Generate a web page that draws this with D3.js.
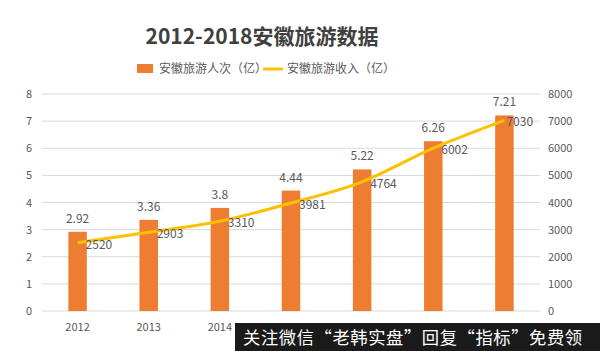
<!DOCTYPE html>
<html>
<head>
<meta charset="utf-8">
<script src="https://cdn.jsdelivr.net/npm/d3@7"></script>
<style>
  body { margin: 0; background: #fff; }
  text { font-family: "Noto Sans CJK SC", "Noto Sans", sans-serif; }
</style>
</head>
<body>
<div id="chart"></div>
<script>
// data
const years = ["2012", "2013", "2014", "2015", "2016", "2017", "2018"];
const visitors = [2.92, 3.36, 3.8, 4.44, 5.22, 6.26, 7.21];
const income = [2520, 2903, 3310, 3981, 4764, 6002, 7030];
const leftTicks = [0, 1, 2, 3, 4, 5, 6, 7, 8];
const rightTicks = [0, 1000, 2000, 3000, 4000, 5000, 6000, 7000, 8000];
// only the first three year labels are visible, the rest sit under the watermark
const visibleYears = ["2012", "2013", "2014"];

const width = 600, height = 351;
const margin = { top: 94, right: 60, bottom: 40, left: 42 };
const chartW = width - margin.left - margin.right;
const chartH = height - margin.top - margin.bottom;

const svg = d3.select("#chart").append("svg")
    .attr("width", width)
    .attr("height", height);

// title
svg.append("text")
    .attr("x", 262).attr("y", 44)
    .attr("text-anchor", "middle")
    .attr("font-size", "21px")
    .attr("font-weight", "bold")
    .attr("fill", "#404040")
    .text("2012-2018安徽旅游数据");

// legend
const legend = svg.append("g").attr("transform", "translate(137,69)");
legend.append("rect").attr("x", 0).attr("y", -5).attr("width", 16).attr("height", 9).attr("fill", "#ED7D31");
legend.append("text").attr("x", 22).attr("y", 4).attr("font-size", "12px").attr("fill", "#595959").text("安徽旅游人次（亿）");
legend.append("line").attr("x1", 126).attr("x2", 146).attr("y1", 0).attr("y2", 0)
    .attr("stroke", "#FFC000").attr("stroke-width", 3);
legend.append("text").attr("x", 150).attr("y", 4).attr("font-size", "12px").attr("fill", "#595959").text("安徽旅游收入（亿）");

const g = svg.append("g").attr("transform", `translate(${margin.left},${margin.top})`);

// scales
const x = d3.scaleBand().domain(years).range([0, chartW]).paddingInner(0.74).paddingOuter(0.37);
const yL = d3.scaleLinear().domain([0, 8]).range([chartH, 0]);
const yR = d3.scaleLinear().domain([0, 8000]).range([chartH, 0]);

// gridlines
g.append("g").selectAll("line").data(leftTicks).enter().append("line")
    .attr("x1", 0).attr("x2", chartW)
    .attr("y1", d => yL(d)).attr("y2", d => yL(d))
    .attr("stroke", "#d9d9d9").attr("stroke-width", 1);

// left axis
const leftAxis = g.append("g").call(d3.axisLeft(yL).tickValues(leftTicks).tickSize(0).tickPadding(10));
leftAxis.select(".domain").remove();
leftAxis.selectAll("text").attr("font-size", "11px").attr("fill", "#595959");

// right axis
const rightAxis = g.append("g").attr("transform", `translate(${chartW},0)`)
    .call(d3.axisRight(yR).tickValues(rightTicks).tickFormat(d3.format("d")).tickSize(0).tickPadding(8));
rightAxis.select(".domain").remove();
rightAxis.selectAll("text").attr("font-size", "11px").attr("fill", "#595959");

// x axis
const xAxis = g.append("g").attr("transform", `translate(0,${chartH})`)
    .call(d3.axisBottom(x).tickValues(visibleYears).tickSize(0).tickPadding(12));
xAxis.select(".domain").remove();
xAxis.selectAll("text").attr("font-size", "11px").attr("fill", "#595959");

// bars
g.selectAll("rect.bar").data(visitors).enter().append("rect")
    .attr("class", "bar")
    .attr("x", (d, i) => x(years[i]))
    .attr("y", d => yL(d))
    .attr("width", x.bandwidth())
    .attr("height", d => chartH - yL(d))
    .attr("fill", "#ED7D31");

g.selectAll("text.barlabel").data(visitors).enter().append("text")
    .attr("class", "barlabel")
    .attr("x", (d, i) => x(years[i]) + x.bandwidth() / 2)
    .attr("y", d => yL(d) - 9)
    .attr("text-anchor", "middle")
    .attr("font-size", "12px")
    .attr("fill", "#595959")
    .text(d => d);

// line
const line = d3.line()
    .x((d, i) => x(years[i]) + x.bandwidth() / 2)
    .y(d => yR(d))
    .curve(d3.curveMonotoneX);

g.append("path").datum(income)
    .attr("d", line)
    .attr("fill", "none")
    .attr("stroke", "#FFC000")
    .attr("stroke-width", 3);

g.selectAll("text.linelabel").data(income).enter().append("text")
    .attr("class", "linelabel")
    .attr("x", (d, i) => x(years[i]) + x.bandwidth() / 2 + (i === income.length - 1 ? 2 : 8))
    .attr("y", d => yR(d) + 6)
    .attr("font-size", "12px")
    .attr("fill", "#595959")
    .text(d => d);

// watermark bar at the bottom
svg.append("rect").attr("x", 235).attr("y", 323).attr("width", 365).attr("height", 28).attr("fill", "#1a1a1a");
svg.append("text").attr("x", 243).attr("y", 344)
    .attr("font-size", "17.3px").attr("letter-spacing", "0.6px").attr("fill", "#ffffff")
    .text("关注微信“老韩实盘”回复“指标”免费领");
</script>
</body>
</html>
